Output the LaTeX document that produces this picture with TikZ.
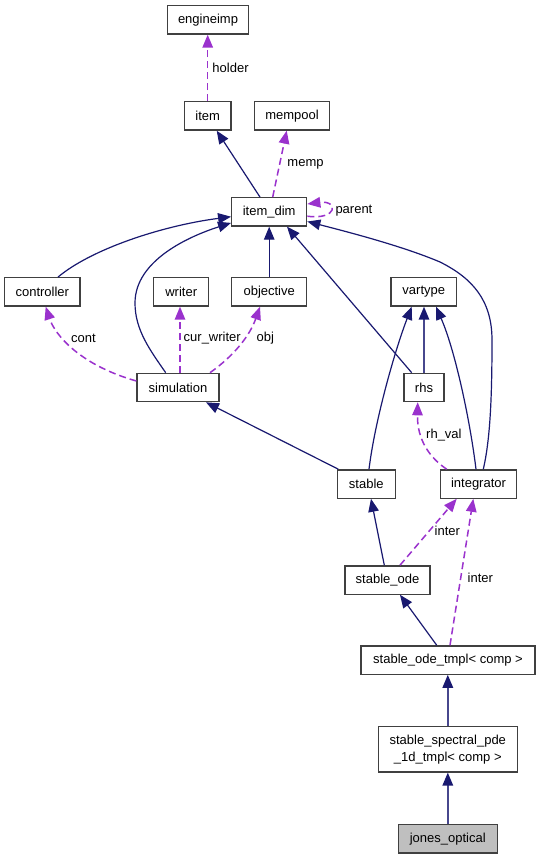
\documentclass[tikz,border=0pt]{standalone}
\usepackage{fontspec}
\setmainfont{Liberation Sans}
\usetikzlibrary{arrows.meta}
\definecolor{inh}{HTML}{191970}
\definecolor{usec}{HTML}{9A32CD}
\definecolor{bord}{HTML}{404040}
\begin{document}
\begin{tikzpicture}[x=1pt,y=-1pt,
  box/.style={draw=bord,line width=1.3pt,inner sep=0pt,minimum height=28.3pt,
    font=\fontsize{13}{16.7}\selectfont,text=black},
  inhe/.style={draw=inh,line width=1.2pt,-{Triangle[length=13pt,width=10.5pt]}},
  inhl/.style={draw=inh!80!white,line width=1.5pt,-{Triangle[length=13pt,width=10.5pt,color=inh,fill=inh]}},
  usee/.style={draw=usec,line width=1.5pt,dash pattern=on 7pt off 4pt,-{Triangle[length=13pt,width=10.5pt]}},
  lab/.style={font=\fontsize{13}{15}\selectfont,anchor=west,inner sep=0pt,text=black}]
\fill[white] (0,0) rectangle (540,859);
\useasboundingbox (0,0) rectangle (540,859);
% nodes
\node[box,minimum width=81.4pt] (engineimp) at (208,19.9) {engineimp};
\node[box,minimum width=46.7pt] (item) at (207.7,115.9) {item};
\node[box,minimum width=74.6pt] (mempool) at (292,115.9) {mempool};
\node[box,minimum width=75pt] (itemdim) at (269.2,211.9) {item\_dim};
\node[box,minimum width=75.3pt] (controller) at (42.3,291.9) {controller};
\node[box,minimum width=55pt] (writer) at (181.2,291.9) {writer};
\node[box,minimum width=75pt] (objective) at (269.2,291.9) {objective};
\node[box,minimum width=65.7pt] (vartype) at (423.8,291.9) {vartype};
\node[box,minimum width=82pt] (simulation) at (178,387.5) {simulation};
\node[box,minimum width=40pt] (rhs) at (424,387.5) {rhs};
\node[box,minimum width=58pt] (stable) at (366.3,484) {stable};
\node[box,minimum width=76.4pt] (integrator) at (478.5,484) {integrator};
\node[box,minimum width=85pt] (stableode) at (387.5,580) {stable\_ode};
\node[box,minimum width=174pt] (tmpl) at (448,660) {stable\_ode\_tmpl< comp >};
\node[box,minimum width=139pt,minimum height=45.3pt,align=center] (spectral) at (447.8,749.3) {stable\_spectral\_pde\\\_1d\_tmpl< comp >};
\node[box,minimum width=99pt,minimum height=28.7pt,fill=black!25] (jones) at (447.8,838.7) {jones\_optical};
% edges
\draw[usee] (item.north) -- (engineimp.south -| item.north)
  node[lab,pos=0.5,xshift=4pt] {holder};
\draw[inhe] ([xshift=-9.2pt]itemdim.north) -- ([xshift=9pt]item.south);
\draw[usee] ([xshift=3.5pt]itemdim.north) -- ([xshift=-5.3pt]mempool.south)
  node[lab,pos=0.5,xshift=7pt] {memp};
\draw[usee] ([yshift=-4.3pt]itemdim.east) .. controls +(31,4) and +(31,-4) .. ([yshift=7.9pt]itemdim.east);
\node[lab] (lparent) at (335.3,211) {parent};
\draw[inhe] ([xshift=15.7pt]controller.north) .. controls (90,250) and (160,226) .. ([yshift=-4.8pt]itemdim.west);
\draw[inhe] ([xshift=-12.3pt]simulation.north) .. controls (150,350) and (135,330) .. (135,303)
  .. controls (135,260) and (190,236) .. ([yshift=-11pt]itemdim.west);
\draw[inhe] (objective.north) -- (itemdim.south);
\draw[inhe] ([xshift=-12.3pt]rhs.north) -- ([xshift=17.8pt]itemdim.south);
\draw[inhe] ([xshift=4.8pt]integrator.north) .. controls (490,440) and (492,400) .. (492,340)
  .. controls (492,300) and (472,278) .. (440,262)
  .. controls (400,245) and (340,230) .. ([yshift=-9.6pt]itemdim.east);
\draw[usee] ([yshift=6.5pt]simulation.west) .. controls (80,365) and (55,335) .. ([xshift=3.4pt]controller.south);
\node[lab] (lcont) at (71,338) {cont};
\draw[usee] ([xshift=2pt]simulation.north) -- ([xshift=-1.2pt]writer.south);
\node[lab] (lcw) at (183.5,338) {cur\_writer};
\draw[usee] ([xshift=32pt]simulation.north) .. controls (235,355) and (250,335) .. ([xshift=-9.2pt]objective.south);
\node[lab] (lobj) at (256.5,338) {obj};
\draw[inhe] ([xshift=2.7pt]stable.north) .. controls (375,420) and (395,350) .. ([xshift=-12.1pt]vartype.south);
\draw[inhl] (rhs.north) -- (rhs.north |- vartype.south);
\draw[inhe] ([xshift=-2.5pt]integrator.north) .. controls (470,420) and (455,350) .. ([xshift=12.2pt]vartype.south);
\draw[inhe] ([xshift=-28pt]stable.north) -- ([xshift=28pt]simulation.south);
\draw[usee] ([xshift=-31.8pt]integrator.north) .. controls (430,458) and (417,440) .. ([xshift=-6.3pt]rhs.south);
\node[lab] (lrh) at (426,435) {rh\_val};
\draw[inhe] ([xshift=-3.2pt]stableode.north) -- ([xshift=4.7pt]stable.south);
\draw[usee] ([xshift=12.5pt]stableode.north) -- ([xshift=-21.8pt]integrator.south);
\node[lab] (linter) at (434.5,531) {inter};
\draw[inhe] ([xshift=-11.3pt]tmpl.north) -- ([xshift=12.5pt]stableode.south);
\draw[usee] ([xshift=2pt]tmpl.north) -- ([xshift=-5.2pt]integrator.south);
\node[lab] (linter2) at (467.5,578.3) {inter};
\draw[inhl] (spectral.north) -- (tmpl.south -| spectral.north);
\draw[inhl] (jones.north) -- (spectral.south);
\end{tikzpicture}
\end{document}
